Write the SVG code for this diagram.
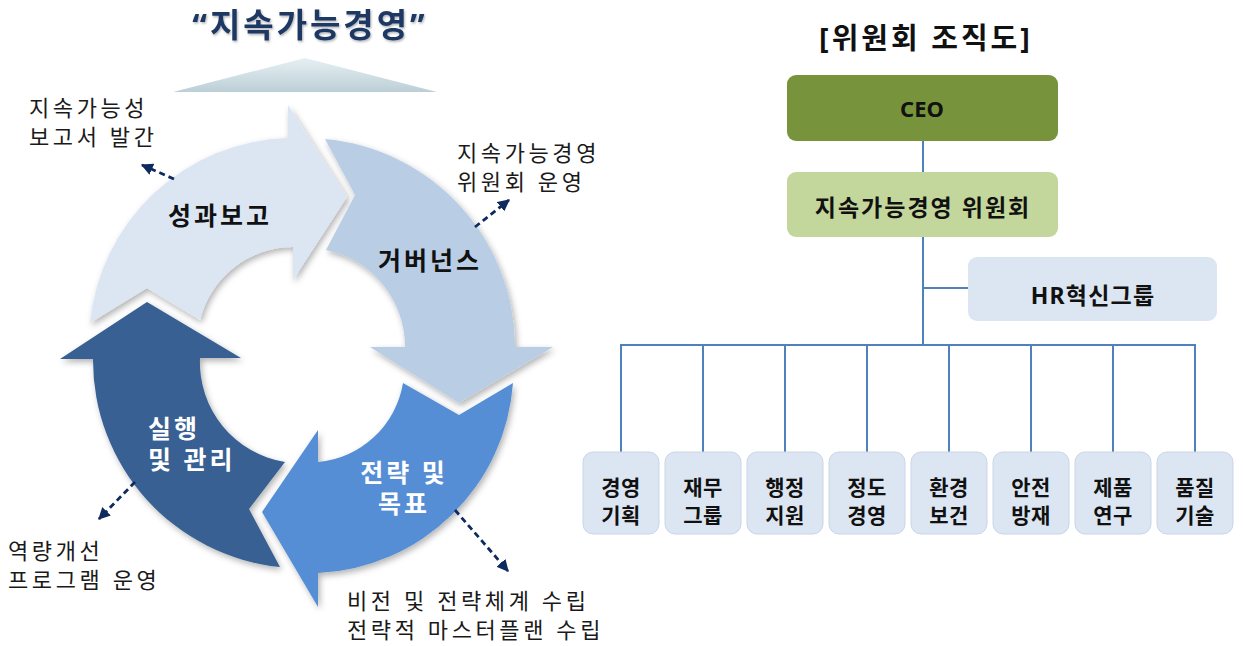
<svg xmlns="http://www.w3.org/2000/svg" width="1243" height="646" viewBox="0 0 1243 646">
<defs>
<style>
text{font-family:"Noto Sans","Noto Sans CJK KR",sans-serif;}
.b{font-weight:bold;}
.lbl{font-size:22px;fill:#1a1a1a;letter-spacing:3.6px;}
.cyc{font-size:25px;font-weight:bold;letter-spacing:3px;}
.box{font-size:21px;font-weight:bold;fill:#111;text-anchor:middle;letter-spacing:0.5px;}
.conn{stroke:#4F81BD;stroke-width:2;fill:none;}
.dash{stroke:#0F2A5E;stroke-width:2.8;stroke-dasharray:6 4;fill:none;marker-end:url(#ah);}
.sub{fill:#DCE6F2;stroke:#C9D6E8;stroke-width:1;}
</style>
<marker id="ah" viewBox="0 0 10 10" refX="9" refY="5" markerUnits="userSpaceOnUse" markerWidth="12" markerHeight="12" orient="auto">
<path d="M0,0 L10,5 L0,10 z" fill="#0F2A5E"/>
</marker>
<filter id="sh" x="-20%" y="-20%" width="140%" height="140%">
<feDropShadow dx="2" dy="3" stdDeviation="3" flood-color="#000" flood-opacity="0.3"/>
</filter>
<filter id="tsh" x="-10%" y="-30%" width="120%" height="160%">
<feDropShadow dx="1" dy="1.5" stdDeviation="1" flood-color="#000" flood-opacity="0.3"/>
</filter>
<linearGradient id="tri" x1="0" y1="0" x2="0" y2="1">
<stop offset="0" stop-color="#E6F0F3"/>
<stop offset="1" stop-color="#BCCFD6"/>
</linearGradient>
</defs>

<g id="title">
<text x="310" y="37" class="b" font-size="33" fill="#1F3864" text-anchor="middle" letter-spacing="3" filter="url(#tsh)">“지속가능경영”</text>
<polygon points="305,58 437,92 173,92" fill="url(#tri)"/>
</g>

<g id="cycle" filter="url(#sh)">
<g id="arrow-report">
<path d="M90,323 A205 205 0 0 1 288,138 L288,105 L347,197 L293,280 L293,247 A96 96 0 0 0 200,320 L147,288 Z" fill="#DCE6F2"/>
</g>
<g id="arrow-governance">
<path d="M325,139 A209 209 0 0 1 515,347 L553,347 L459,403 L370,347 L405,347 A99 99 0 0 0 326,250 L355,195 Z" fill="#B9CDE5"/>
</g>
<g id="arrow-strategy">
<path d="M513,383 A205 205 0 0 1 318,573 L318,607 L262,512 L318,430 L318,462 A95 95 0 0 0 403,383 L459,415 Z" fill="#558ED5"/>
</g>
<g id="arrow-exec">
<path d="M280,567 A208 208 0 0 1 93,359 L60,359 L147,302 L241,358 L200,358 A101 101 0 0 0 285,462 L249,509 Z" fill="#376092"/>
</g>
</g>

<g id="cycle-labels">
<text x="220" y="225" class="cyc" fill="#111" text-anchor="middle">성과보고</text>
<text x="430" y="270" class="cyc" fill="#111" text-anchor="middle">거버넌스</text>
<text x="148" y="438" class="cyc" fill="#fff">실행</text>
<text x="148" y="469" class="cyc" fill="#fff">및 관리</text>
<text x="404" y="482" class="cyc" fill="#fff" text-anchor="middle">전략 및</text>
<text x="404" y="513" class="cyc" fill="#fff" text-anchor="middle">목표</text>
</g>

<g id="side-labels">
<text class="lbl" x="29" y="116">지속가능성</text>
<text class="lbl" x="29" y="145">보고서 발간</text>
<text class="lbl" x="457" y="161">지속가능경영</text>
<text class="lbl" x="457" y="190">위원회 운영</text>
<text class="lbl" x="8" y="559">역량개선</text>
<text class="lbl" x="8" y="588">프로그램 운영</text>
<text class="lbl" x="347" y="609">비전 및 전략체계 수립</text>
<text class="lbl" x="347" y="638">전략적 마스터플랜 수립</text>
</g>

<g id="dashed-arrows">
<line class="dash" x1="174" y1="179" x2="142" y2="165"/>
<line class="dash" x1="475" y1="227" x2="509" y2="200"/>
<line class="dash" x1="135" y1="482" x2="99" y2="519"/>
<line class="dash" x1="455" y1="510" x2="508" y2="571"/>
</g>

<g id="org-title">
<text x="926" y="49" class="b" font-size="29" fill="#111" text-anchor="middle" letter-spacing="3">[위원회 조직도]</text>
</g>

<g id="connectors">
<line class="conn" x1="923" y1="141" x2="923" y2="172"/>
<line class="conn" x1="923" y1="237" x2="923" y2="345"/>
<line class="conn" x1="923" y1="288" x2="968" y2="288"/>
<line class="conn" x1="621" y1="345" x2="1195" y2="345"/>
<line class="conn" x1="621" y1="344" x2="621" y2="452"/>
<line class="conn" x1="703" y1="344" x2="703" y2="452"/>
<line class="conn" x1="785" y1="344" x2="785" y2="452"/>
<line class="conn" x1="867" y1="344" x2="867" y2="452"/>
<line class="conn" x1="949" y1="344" x2="949" y2="452"/>
<line class="conn" x1="1031" y1="344" x2="1031" y2="452"/>
<line class="conn" x1="1113" y1="344" x2="1113" y2="452"/>
<line class="conn" x1="1195" y1="344" x2="1195" y2="452"/>
</g>

<g id="ceo">
<rect x="787" y="75" width="271" height="66" rx="9" fill="#77933C"/>
<text x="922" y="117" class="b" font-size="22" fill="#111" text-anchor="middle">CEO</text>
</g>
<g id="committee">
<rect x="787" y="172" width="271" height="65" rx="9" fill="#C3D69B"/>
<text x="923" y="216" class="b" font-size="23" fill="#111" text-anchor="middle" letter-spacing="2">지속가능경영 위원회</text>
</g>
<g id="hr">
<rect x="968" y="257" width="249" height="64" rx="9" fill="#DCE6F2"/>
<text x="1093" y="304" class="b" font-size="23" fill="#111" text-anchor="middle" letter-spacing="1.2">HR혁신그룹</text>
</g>

<g id="dept1"><rect class="sub" x="583" y="452" width="76" height="82" rx="10"/><text class="box" x="621" y="495">경영</text><text class="box" x="621" y="523">기획</text></g>
<g id="dept2"><rect class="sub" x="665" y="452" width="76" height="82" rx="10"/><text class="box" x="703" y="495">재무</text><text class="box" x="703" y="523">그룹</text></g>
<g id="dept3"><rect class="sub" x="747" y="452" width="76" height="82" rx="10"/><text class="box" x="785" y="495">행정</text><text class="box" x="785" y="523">지원</text></g>
<g id="dept4"><rect class="sub" x="829" y="452" width="76" height="82" rx="10"/><text class="box" x="867" y="495">정도</text><text class="box" x="867" y="523">경영</text></g>
<g id="dept5"><rect class="sub" x="911" y="452" width="76" height="82" rx="10"/><text class="box" x="949" y="495">환경</text><text class="box" x="949" y="523">보건</text></g>
<g id="dept6"><rect class="sub" x="993" y="452" width="76" height="82" rx="10"/><text class="box" x="1031" y="495">안전</text><text class="box" x="1031" y="523">방재</text></g>
<g id="dept7"><rect class="sub" x="1075" y="452" width="76" height="82" rx="10"/><text class="box" x="1113" y="495">제품</text><text class="box" x="1113" y="523">연구</text></g>
<g id="dept8"><rect class="sub" x="1157" y="452" width="76" height="82" rx="10"/><text class="box" x="1195" y="495">품질</text><text class="box" x="1195" y="523">기술</text></g>
</svg>
